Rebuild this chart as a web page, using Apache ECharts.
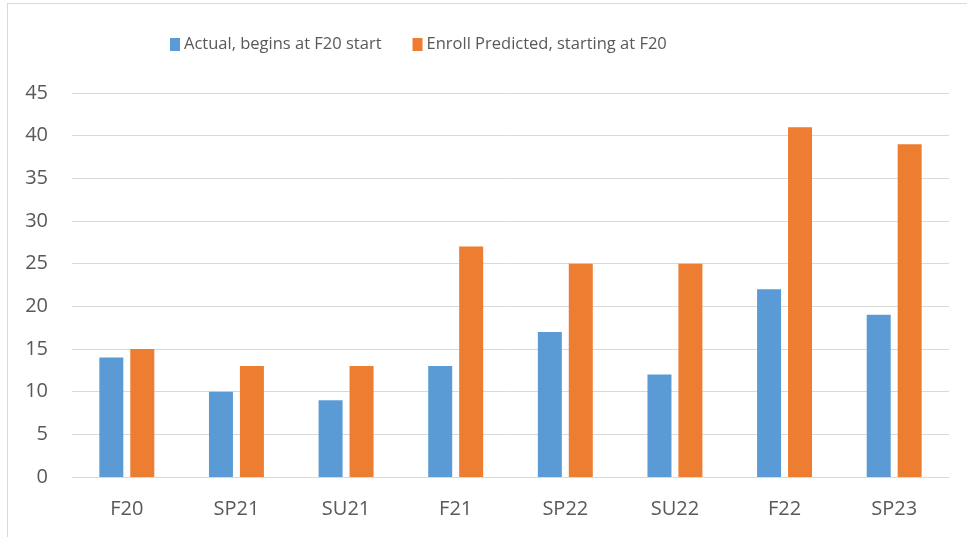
<!DOCTYPE html>
<html>
<head>
<meta charset="utf-8">
<script src="https://cdn.jsdelivr.net/npm/echarts@6/dist/echarts.min.js"></script>
<style>
html, body { margin: 0; padding: 0; background: #fff; overflow: hidden; }
#frame {
  position: absolute; left: 7px; top: 3px; width: 980px; height: 560px;
  border: 1px solid #d9d9d9; box-sizing: border-box;
}
#chart { position: absolute; left: 0; top: 0; width: 967px; height: 537px; }
</style>
</head>
<body>
<div id="frame"></div>
<div id="chart"></div>
<script>
var terms = ['F20', 'SP21', 'SU21', 'F21', 'SP22', 'SU22', 'F22', 'SP23']
var actual = [14, 10, 9, 13, 17, 12, 22, 19]
var predicted = [15, 13, 13, 27, 25, 25, 41, 39]
var seriesNames = ['Actual, begins at F20 start', 'Enroll Predicted, starting at F20']
var colors = ['#5B9BD5', '#ED7D31']
var textColor = '#595959'
var font = 'Open Sans'

var myChart = echarts.init(document.getElementById('chart'))
myChart.setOption({
  animation: false,
  color: colors,
  textStyle: { fontFamily: font },
  legend: {
    top: 31,
    left: 165,
    itemWidth: 10,
    itemHeight: 13,
    itemGap: 31,
    icon: 'rect',
    textStyle: { color: textColor, fontSize: 16.5, fontFamily: font, padding: [0, 0, 0, -1] },
    data: seriesNames
  },
  grid: { left: 72, right: 18, top: 93, bottom: 60 },
  xAxis: {
    type: 'category',
    data: terms,
    axisLine: { lineStyle: { color: '#d9d9d9' } },
    axisTick: { show: false },
    axisLabel: { color: textColor, fontSize: 20, margin: 22 }
  },
  yAxis: {
    type: 'value',
    min: 0,
    max: 45,
    interval: 5,
    axisLine: { show: false },
    axisTick: { show: false },
    splitLine: { lineStyle: { color: '#d9d9d9' } },
    axisLabel: { color: textColor, fontSize: 20, margin: 24 }
  },
  series: [
    { name: seriesNames[0], type: 'bar', data: actual, barWidth: 24, barGap: '29%' },
    { name: seriesNames[1], type: 'bar', data: predicted, barWidth: 24, barGap: '29%' }
  ]
})
</script>
</body>
</html>
